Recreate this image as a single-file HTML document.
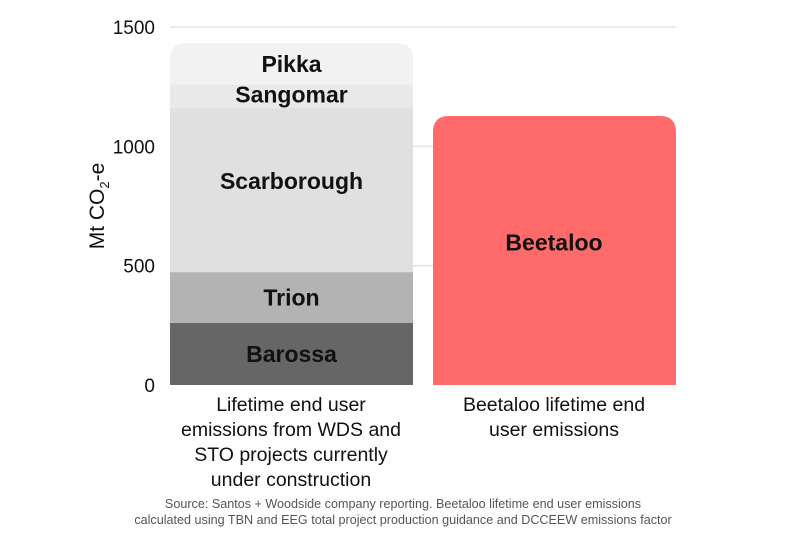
<!DOCTYPE html>
<html><head><meta charset="utf-8"><style>
body{margin:0;background:#fff;width:800px;height:533px;overflow:hidden;font-family:"Liberation Sans",sans-serif}
</style></head><body>
<svg id="chart" width="800" height="533" xmlns="http://www.w3.org/2000/svg" font-family="Liberation Sans, sans-serif"></svg>
<script>
const yTicks=[0,500,1000,1500];
const seg1Names=["Barossa","Trion","Scarborough","Sangomar","Pikka"];
const seg1Values=[260,213,687,100,172];
const seg1Colors=["#666666","#b3b3b3","#e0e0e0","#e9e9e9","#f2f2f2"];
const bar2Name="Beetaloo";
const bar2Value=1127;
const cat1=["Lifetime end user","emissions from WDS and","STO projects currently","under construction"];
const cat2=["Beetaloo lifetime end","user emissions"];
const NS="http://www.w3.org/2000/svg";
const svg=document.getElementById('chart');
const y0=385,y1=27,vmax=1500;
const Y=v=>y0-(v/vmax)*(y0-y1);
function mk(t,a,p){const e=document.createElementNS(NS,t);for(const k in a)e.setAttribute(k,a[k]);(p||svg).appendChild(e);return e;}
yTicks.forEach(t=>{
  if(t>0){const g=mk('line',{x1:170,x2:676,y1:Y(t),y2:Y(t),stroke:'#e3e3e3','stroke-width':1.5});
  
  }
  const l=mk('text',{x:155,y:Y(t)+7,'text-anchor':'end','font-size':19,fill:'#111'});l.textContent=t;
  
  
});
const yt=mk('text',{transform:'translate(104,206) rotate(-90)','text-anchor':'middle','font-size':21,fill:'#111'});
yt.innerHTML='Mt CO<tspan font-size="13" dy="5">2</tspan><tspan dy="-5">-e</tspan>';


function topRound(x,w,yt,yb,r){return `M${x},${yb}V${yt+r}Q${x},${yt} ${x+r},${yt}H${x+w-r}Q${x+w},${yt} ${x+w},${yt+r}V${yb}Z`;}
const bx=170,bw=243;
let cum=0;
seg1Values.forEach((v,i)=>{
  const top=Y(cum+v),bot=Y(cum);
  let e;
  if(i===seg1Values.length-1) e=mk('path',{d:topRound(bx,bw,top,bot,16),fill:seg1Colors[i]});
  else e=mk('rect',{x:bx,y:top,width:bw,height:bot-top,fill:seg1Colors[i]});
  
  
  cum+=v;
});
cum=0;
const labelOffsets=[0,0,-9,0,0];
seg1Values.forEach((v,i)=>{
  let cy=(Y(cum)+Y(cum+v))/2+8+labelOffsets[i];
  if(i===3) cy=Y(cum+v)+18; if(i===4) cy=Y(cum+v)+29;
  const t=mk('text',{x:bx+bw/2,y:cy,'text-anchor':'middle','font-size':23,'font-weight':'bold',fill:'#111'});
  t.textContent=seg1Names[i];
  
  
  cum+=v;
});
const b2=mk('path',{d:topRound(433,243,Y(bar2Value),y0,16),fill:'#ff6b6b'});


const b2l=mk('text',{x:554,y:(Y(bar2Value)+y0)/2,'text-anchor':'middle','font-size':23,'font-weight':'bold',fill:'#111'});
b2l.textContent=bar2Name;


cat1.forEach((s,i)=>{const t=mk('text',{x:291,y:411+i*25,'text-anchor':'middle','font-size':19.5,fill:'#111'});t.textContent=s;

});
cat2.forEach((s,i)=>{const t=mk('text',{x:554,y:411+i*25,'text-anchor':'middle','font-size':19.5,fill:'#111'});t.textContent=s;

});
["Source: Santos + Woodside company reporting. Beetaloo lifetime end user emissions","calculated using TBN and EEG total project production guidance and DCCEEW emissions factor"].forEach((s,i)=>{
const t=mk('text',{x:403,y:508+i*16,'text-anchor':'middle','font-size':12.6,fill:'#555'});t.textContent=s;

});
</script>
</body></html>
